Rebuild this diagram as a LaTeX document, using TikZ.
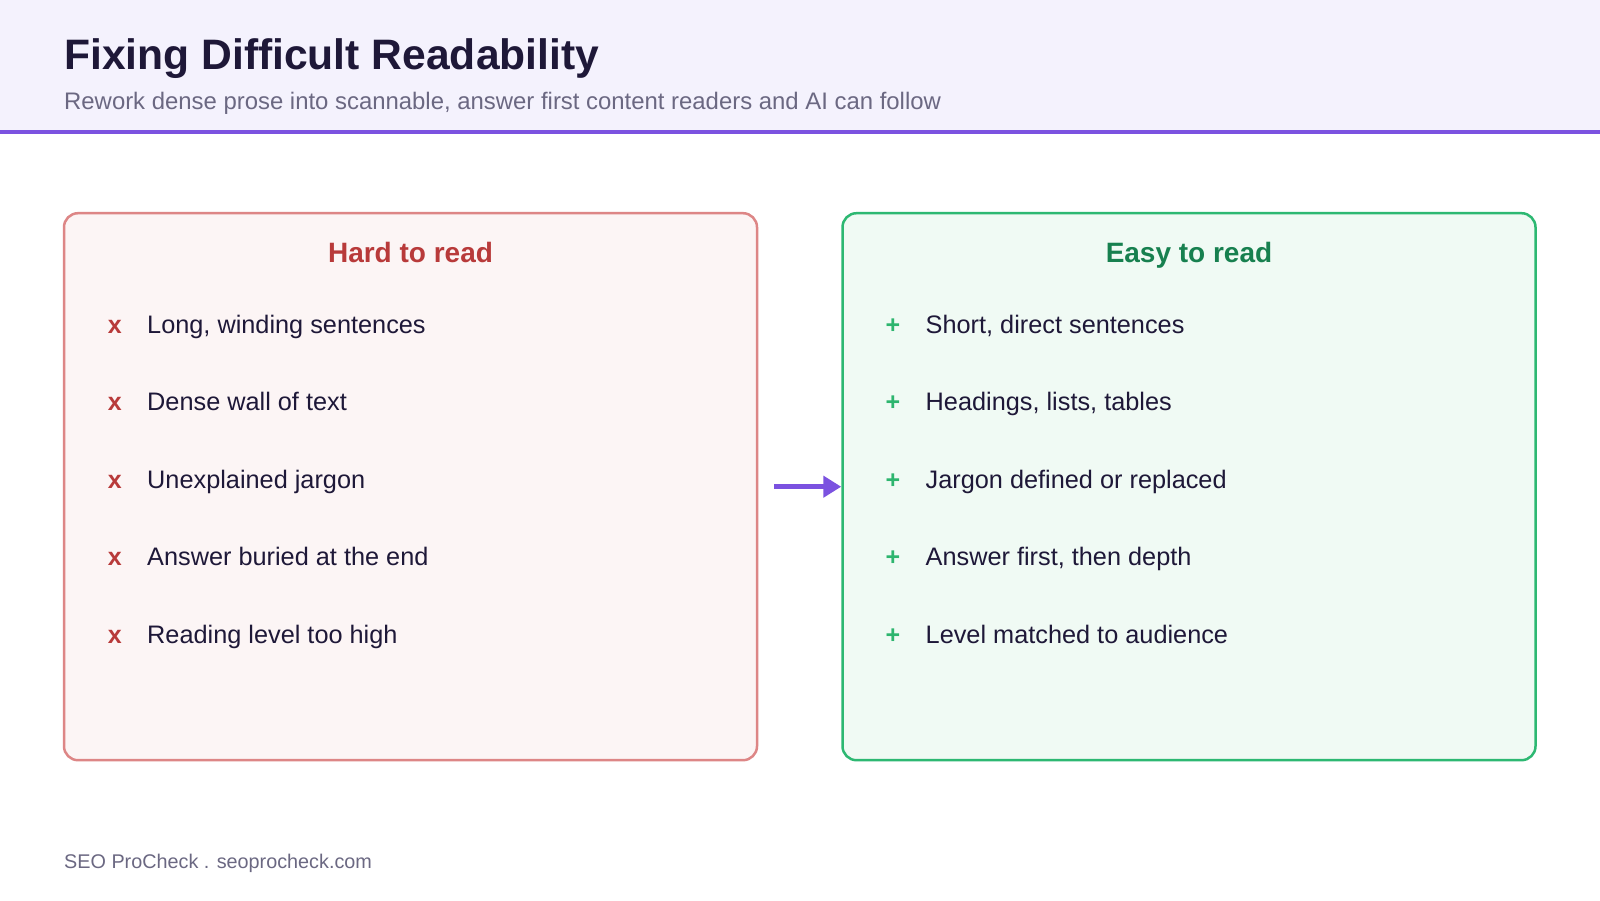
\documentclass[tikz,border=0pt]{standalone}
\usepackage{fontspec}
\setmainfont{Liberation Sans}
\usepackage{xcolor}
\usepackage{tikz}
\usetikzlibrary{positioning, arrows.meta}

\definecolor{headbg}{HTML}{F4F2FD}
\definecolor{accent}{HTML}{7B52E0}
\definecolor{ink}{HTML}{1E1838}
\definecolor{muted}{HTML}{6B6882}
\definecolor{hardred}{HTML}{B83A3A}
\definecolor{hardline}{HTML}{DD8686}
\definecolor{hardfill}{HTML}{FCF5F5}
\definecolor{easygreen}{HTML}{17804F}
\definecolor{easyline}{HTML}{2DB872}
\definecolor{easyfill}{HTML}{F0FAF4}
\definecolor{plusgreen}{HTML}{2DB56E}

\begin{document}
\begin{tikzpicture}[
    x=1pt, y=1pt,
    node distance=54pt and 25pt,
    title/.style={
        font=\bfseries\fontsize{42.6}{48}\selectfont,
        text=ink, inner sep=0pt, anchor=base west
    },
    subtitle/.style={
        font=\fontsize{23.9}{28}\selectfont,
        text=muted, inner sep=0pt, anchor=base west
    },
    panel/.style={
        rectangle, rounded corners=14pt,
        line width=2.5pt,
        minimum width=693pt, minimum height=547pt
    },
    heading/.style={
        font=\bfseries\fontsize{28}{34}\selectfont,
        inner sep=0pt, anchor=base
    },
    item/.style={
        font=\fontsize{25.3}{30}\selectfont,
        text=ink, inner sep=0pt,
        text height=18pt, text depth=5pt
    },
    badmark/.style={item, font=\bfseries\fontsize{25}{30}\selectfont, text=hardred},
    goodmark/.style={item, font=\bfseries\fontsize{25}{30}\selectfont, text=plusgreen},
    flow/.style={-{Triangle[length=18pt, width=21pt]}, line width=4.5pt, draw=accent},
]

\useasboundingbox (0,0) rectangle (1600,-900);
\fill[white] (0,0) rectangle (1600,-900);

% ---------- Header ----------
\fill[headbg] (0,0) rectangle (1600,-130);
\fill[accent] (0,-130) rectangle (1600,-134);

\node[title] (title) at (64,-69.5) {Fixing Difficult Readability};
\node[subtitle] (sub) at (64,-109) {Rework dense prose into scannable, answer first content readers and AI can follow};

% ---------- Panels ----------
\node[panel, draw=hardline, fill=hardfill] (hard) at (410.5,-486.7) {};
\node[panel, draw=easyline, fill=easyfill] (easy) at (1189,-486.7) {};

\node[heading, text=hardred] (hardhead) at ([yshift=-50.7pt]hard.north) {Hard to read};
\node[heading, text=easygreen] (easyhead) at ([yshift=-50.7pt]easy.north) {Easy to read};

% ---------- Hard to read items ----------
\node[item, anchor=base west] (h1) at (147,-333.5) {Long, winding sentences};
\node[item, below=of h1.south west, anchor=north west] (h2) {Dense wall of text};
\node[item, below=of h2.south west, anchor=north west] (h3) {Unexplained jargon};
\node[item, below=of h3.south west, anchor=north west] (h4) {Answer buried at the end};
\node[item, below=of h4.south west, anchor=north west] (h5) {Reading level too high};

\node[badmark, left=of h1] (x1) {x};
\node[badmark, left=of h2] (x2) {x};
\node[badmark, left=of h3] (x3) {x};
\node[badmark, left=of h4] (x4) {x};
\node[badmark, left=of h5] (x5) {x};

% ---------- Easy to read items ----------
\node[item, anchor=base west] (e1) at (925.5,-333.5) {Short, direct sentences};
\node[item, below=of e1.south west, anchor=north west] (e2) {Headings, lists, tables};
\node[item, below=of e2.south west, anchor=north west] (e3) {Jargon defined or replaced};
\node[item, below=of e3.south west, anchor=north west] (e4) {Answer first, then depth};
\node[item, below=of e4.south west, anchor=north west] (e5) {Level matched to audience};

\node[goodmark, left=of e1] (p1) {+};
\node[goodmark, left=of e2] (p2) {+};
\node[goodmark, left=of e3] (p3) {+};
\node[goodmark, left=of e4] (p4) {+};
\node[goodmark, left=of e5] (p5) {+};

% ---------- Arrow ----------
\draw[flow] ([xshift=16pt]hard.east) -- (easy.west);

% ---------- Footer ----------
\node[subtitle, font=\fontsize{19.8}{24}\selectfont] (footer) at (64,-868) {SEO ProCheck . seoprocheck.com};

\end{tikzpicture}
\end{document}
